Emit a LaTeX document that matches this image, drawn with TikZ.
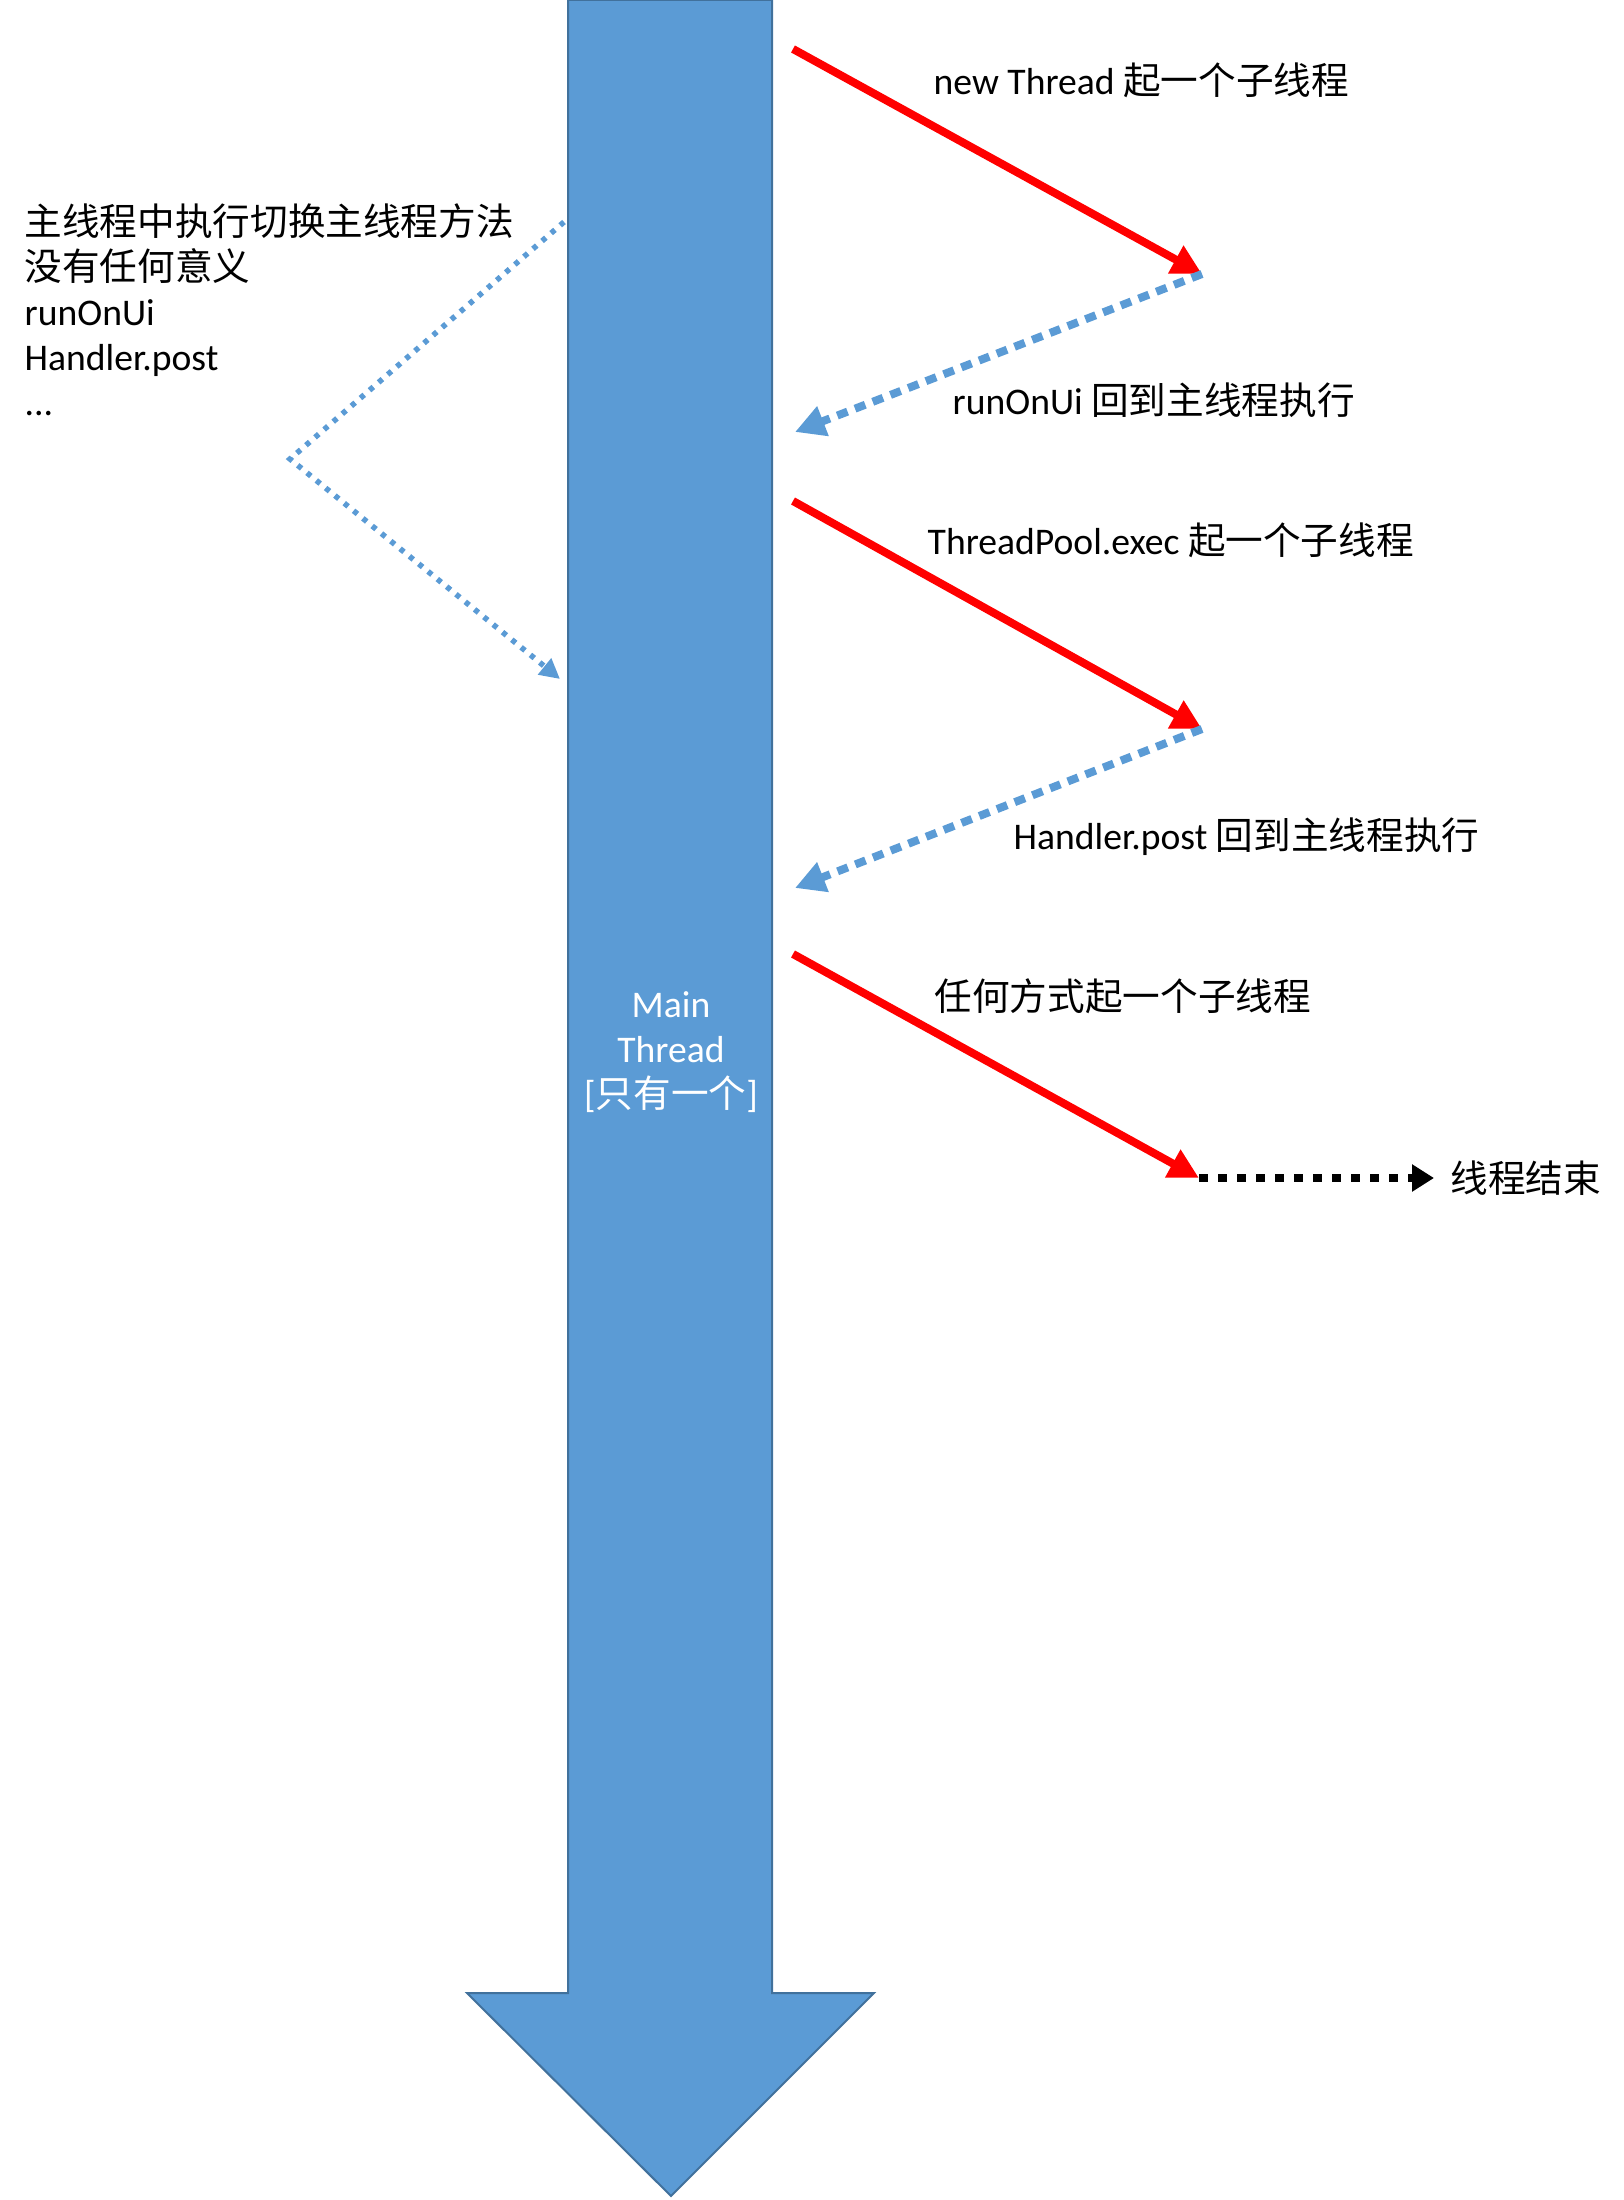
\documentclass[tikz,border=0pt]{standalone}
\usepackage{fontspec}
\setmainfont{Carlito}
\newfontfamily\cjk{Noto Sans CJK SC}
\usetikzlibrary{arrows.meta}
\definecolor{mainblue}{HTML}{5B9BD5}
\definecolor{edgeblue}{HTML}{41719C}
\tikzset{
  lbl/.style={font=\fontsize{10.7}{12.8}\selectfont, inner sep=0pt},
  spawn/.style={draw=red, line width=0.8mm, -{Triangle[length=3mm,width=3mm]}},
  backmain/.style={draw=mainblue, line width=0.8mm, dash pattern=on 1.1mm off 0.8mm, -{Triangle[length=3mm,width=3mm]}},
  noeffect/.style={draw=mainblue, line width=0.55mm, dash pattern=on 0.5mm off 0.7mm, -{Triangle[length=2mm,width=2mm]}},
  threadend/.style={draw=black, line width=0.8mm, dash pattern=on 0.9mm off 1mm, -{Triangle[length=2.2mm,width=2.6mm]}}
}
\begin{document}
\begin{tikzpicture}[x=0.01cm, y=-0.01cm]
\useasboundingbox (0,0) rectangle (1623,2200);
\draw[fill=mainblue, draw=edgeblue, line width=0.2mm] (568,0) -- (772,0) -- (772,1993) -- (874,1993) -- (671,2196) -- (467,1993) -- (568,1993) -- cycle;
\node[lbl, text=white, align=center] (main) at (671,1052) {Main\\Thread\\{}[{\cjk 只有一个}]};
\node[lbl, align=left, anchor=north west] (note) at (24,203) {{\cjk 主线程中执行切换主线程方法}\\{\cjk 没有任何意义}\\runOnUi\\Handler.post\\...};
\coordinate (s0) at (793,49);
\coordinate (t0) at (1202,274);
\coordinate (r0) at (795,432);
\coordinate (s1) at (793,501);
\coordinate (t1) at (1202,729);
\coordinate (r1) at (795,888);
\coordinate (s2) at (793,954);
\coordinate (t2) at (1199,1178);
\coordinate (e2) at (1434,1178);
\coordinate (m0) at (564,222);
\coordinate (m1) at (290,459);
\coordinate (m2) at (560,679);
\node[lbl, anchor=west] (l0) at (933,80) {new Thread {\cjk 起一个子线程}};
\node[lbl, anchor=west] (l1) at (952,400) {runOnUi {\cjk 回到主线程执行}};
\node[lbl, anchor=west] (l2) at (927,540) {ThreadPool.exec {\cjk 起一个子线程}};
\node[lbl, anchor=west] (l3) at (1013,837) {Handler.post {\cjk 回到主线程执行}};
\node[lbl, anchor=west] (l4) at (934,996) {\cjk 任何方式起一个子线程};
\node[lbl, anchor=west] (l5) at (1450,1178) {\cjk 线程结束};
\draw[spawn] (s0) -- (t0);
\draw[backmain] (t0) -- (r0);
\draw[spawn] (s1) -- (t1);
\draw[backmain] (t1) -- (r1);
\draw[spawn] (s2) -- (t2);
\draw[threadend] (t2) -- (e2);
\draw[noeffect] (m0) -- (m1) -- (m2);
\end{tikzpicture}
\end{document}
